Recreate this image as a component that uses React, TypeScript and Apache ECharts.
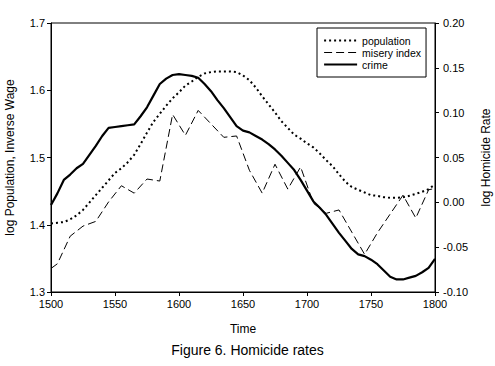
import React, { useEffect, useRef } from "react";
import * as echarts from "echarts";

const popYears = [
  1500, 1505, 1510, 1515, 1520, 1525, 1530, 1535, 1540, 1545, 1550, 1555, 1560, 1565, 1570, 1575,
  1580, 1585, 1590, 1595, 1600, 1605, 1610, 1615, 1620, 1625, 1630, 1635, 1640, 1645, 1650, 1655,
  1660, 1665, 1670, 1675, 1680, 1685, 1690, 1695, 1700, 1705, 1710, 1715, 1720, 1725, 1730, 1735,
  1740, 1745, 1750, 1755, 1760, 1765, 1770, 1775, 1780, 1785, 1790, 1795, 1800,
];
const population = [
  1.402, 1.403, 1.404, 1.408, 1.414, 1.422, 1.433, 1.444, 1.455, 1.466, 1.477, 1.484, 1.493, 1.504, 1.52, 1.537,
  1.553, 1.565, 1.577, 1.588, 1.597, 1.607, 1.613, 1.62, 1.625, 1.627, 1.628, 1.628, 1.628, 1.627, 1.622, 1.615,
  1.604, 1.591, 1.579, 1.567, 1.554, 1.544, 1.534, 1.528, 1.521, 1.515, 1.506, 1.496, 1.487, 1.475, 1.464, 1.456,
  1.452, 1.448, 1.444, 1.443, 1.441, 1.44, 1.44, 1.441, 1.443, 1.446, 1.449, 1.453, 1.46,
];
const crime = [
  -0.003, 0.01, 0.025, 0.031, 0.038, 0.043, 0.053, 0.063, 0.074, 0.083, 0.084, 0.085, 0.086, 0.087, 0.096, 0.106,
  0.119, 0.132, 0.138, 0.142, 0.143, 0.142, 0.141, 0.139, 0.132, 0.124, 0.114, 0.105, 0.095, 0.085, 0.08, 0.078,
  0.074, 0.07, 0.065, 0.059, 0.052, 0.044, 0.036, 0.025, 0.013, 0.001, -0.006, -0.014, -0.024, -0.034, -0.043, -0.052,
  -0.058, -0.06, -0.064, -0.069, -0.076, -0.083, -0.086, -0.086, -0.084, -0.082, -0.078, -0.073, -0.063,
];
const miseryYears = [
  1500, 1505, 1515, 1525, 1535, 1545, 1555, 1565, 1575, 1585, 1595, 1605, 1615, 1625, 1635, 1645,
  1655, 1665, 1675, 1685, 1695, 1705, 1715, 1725, 1735, 1745, 1755, 1765, 1775, 1785, 1795, 1800,
];
const misery = [
  1.335, 1.342, 1.383, 1.398, 1.405, 1.434, 1.458, 1.447, 1.468, 1.465, 1.564, 1.533, 1.57, 1.55, 1.53, 1.532,
  1.481, 1.447, 1.49, 1.453, 1.486, 1.432, 1.417, 1.422, 1.389, 1.356, 1.388, 1.416, 1.444, 1.41, 1.452, 1.454,
];
const xTicks = { min: 1500, max: 1800, interval: 50 };
const leftTicks = { min: 1.3, max: 1.7, interval: 0.1 };
const rightTicks = { min: -0.1, max: 0.2, interval: 0.05 };

const FONT = "'Liberation Sans', Arial, sans-serif";

export default function App() {
  const ref = useRef<HTMLDivElement>(null);
  useEffect(() => {
    if (!ref.current) return;
    const chart = echarts.init(ref.current, null, { renderer: "svg" });
    const axisCommon = {
      axisLine: { show: true, onZero: false, lineStyle: { color: "#000", width: 1 } },
      axisTick: { show: true, length: 4, lineStyle: { color: "#000" } },
      splitLine: { show: false },
      nameTextStyle: { color: "#000", fontSize: 12, fontFamily: FONT },
    };
    chart.setOption({
      animation: false,
      backgroundColor: "#fff",
      textStyle: { fontFamily: FONT },
      grid: {
        left: 51, right: 60, top: 23, bottom: 74,
        containLabel: false, outerBoundsMode: "none",
        show: true, borderColor: "#000", borderWidth: 1, backgroundColor: "transparent",
      },
      legend: {
        orient: "vertical",
        left: 317,
        top: 28,
        itemWidth: 33,
        itemHeight: 12,
        itemGap: 1,
        padding: [7, 5, 7, 6],
        borderColor: "#000",
        borderWidth: 1,
        backgroundColor: "#fff",
        itemStyle: { opacity: 0 },
        textStyle: { color: "#000", fontSize: 10.5, fontFamily: FONT },
        data: [
          { name: "population", lineStyle: { width: 2, type: [2, 3], color: "#000" } },
          { name: "misery index", lineStyle: { width: 1, type: [8, 4], color: "#000" } },
          { name: "crime", lineStyle: { width: 2.2, color: "#000" } },
        ],
      },
      xAxis: {
        type: "value",
        ...xTicks,
        ...axisCommon,
        name: "Time",
        nameLocation: "middle",
        nameGap: 31,
        axisLabel: { color: "#000", fontSize: 11, fontFamily: FONT, margin: 6, formatter: (v: number) => String(v) },
      },
      yAxis: [
        {
          type: "value",
          ...leftTicks,
          ...axisCommon,
          position: "left",
          name: "log Population, Inverse Wage",
          nameLocation: "middle",
          nameRotate: 90,
          nameGap: 35,
          axisLabel: { color: "#000", fontSize: 11, fontFamily: FONT, margin: 6, formatter: (v: number) => v.toFixed(1) },
        },
        {
          type: "value",
          ...rightTicks,
          ...axisCommon,
          position: "right",
          name: "log Homicide Rate",
          nameLocation: "middle",
          nameRotate: 90,
          nameGap: 45,
          axisLabel: { color: "#000", fontSize: 11, fontFamily: FONT, margin: 8, formatter: (v: number) => v.toFixed(2) },
        },
      ],
      series: [
        {
          name: "population",
          type: "line",
          yAxisIndex: 0,
          symbol: "none",
          data: popYears.map((y, i) => [y, population[i]]),
          lineStyle: { color: "#000", width: 2, type: [2, 3] },
          itemStyle: { color: "#000" },
        },
        {
          name: "misery index",
          type: "line",
          yAxisIndex: 0,
          symbol: "none",
          data: miseryYears.map((y, i) => [y, misery[i]]),
          lineStyle: { color: "#000", width: 1, type: [8, 4] },
          itemStyle: { color: "#000" },
        },
        {
          name: "crime",
          type: "line",
          yAxisIndex: 1,
          symbol: "none",
          data: popYears.map((y, i) => [y, crime[i]]),
          lineStyle: { color: "#000", width: 2.2 },
          itemStyle: { color: "#000" },
        },
      ],
      graphic: [
        {
          type: "text",
          left: "center",
          top: 343,
          style: { text: "Figure 6. Homicide rates", fill: "#000", fontSize: 14, fontFamily: FONT },
        },
      ],
    });
    return () => chart.dispose();
  }, []);
  return <div ref={ref} style={{ position: "fixed", left: 0, top: 0, width: 495, height: 366, background: "#fff" }} />;
}
